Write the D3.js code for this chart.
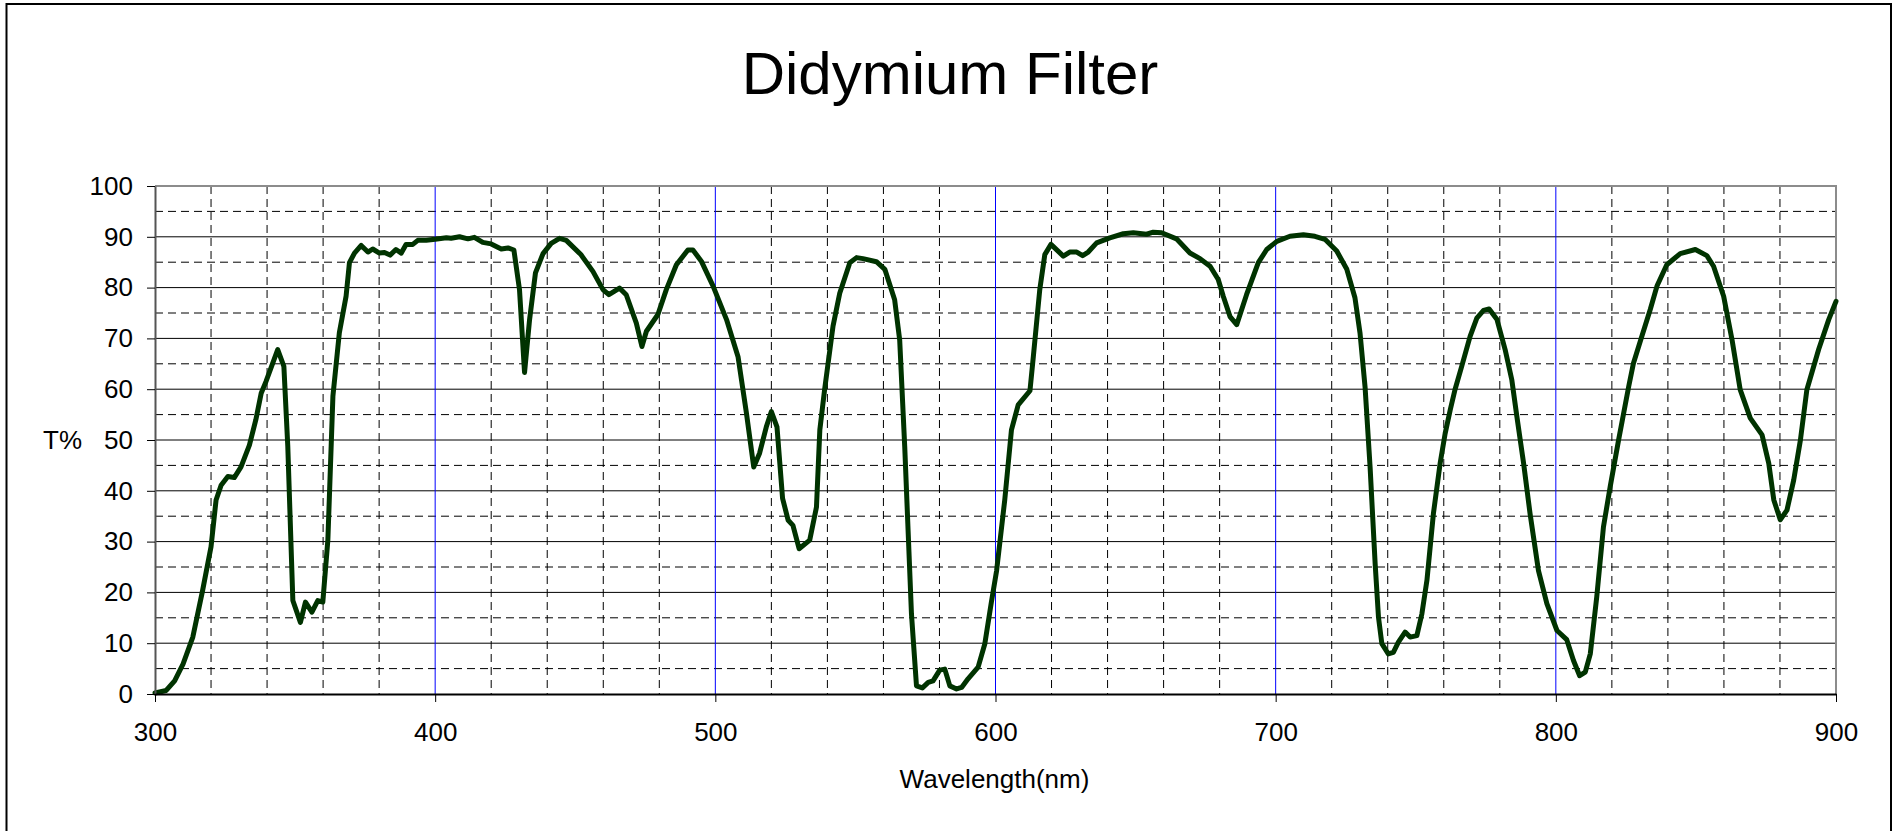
<!DOCTYPE html>
<html>
<head>
<meta charset="utf-8">
<script src="https://cdn.jsdelivr.net/npm/d3@7"></script>
<style>
   html, body { margin: 0; padding: 0; background: #fff; }
   svg { display: block; font-family: "Liberation Sans", Arial, sans-serif; }
</style>
</head>
<body>
<div id="chart"></div>
<script>
// wavelength (nm) and transmittance (%)
const wavelength = [
   300, 304, 307, 310, 313.5, 317, 320, 321.8, 323.6, 326, 328.3, 330.7, 333.7, 336, 337.9, 339.6,
   343.8, 346, 347.4, 349.2, 351.9, 353.7, 356, 358.1, 359.9, 361.7, 363.5, 365.8, 368.2, 369.4,
   371.2, 373.6, 376, 377.7, 380.1, 381.9, 383.9, 386, 387.9, 389.6, 392, 393.8, 396.8, 400,
   404, 405.7, 408.7, 411.7, 414, 417, 420, 423.6, 426, 428.1, 430.1, 431.9, 433.7, 435.8,
   438.5, 441.4, 444.4, 446.8, 452, 456.3, 459.9, 462, 465.8, 468.2, 471.8, 473.8, 475.4,
   479.5, 482.5, 486.1, 490.2, 492, 495, 499.2, 504, 508.1, 511.1, 513.7, 515.8, 518.2, 520,
   522, 524, 526, 527.7, 529.9, 533.7, 536.1, 537.3, 539, 542, 544.4, 548, 550.4, 552.7,
   557.5, 560.5, 564, 565.8, 567.6, 568.8, 570, 571.8, 573.9, 576, 577.7, 580.1, 581.9,
   583.7, 586.1, 587.9, 590.2, 593.8, 596.2, 598.5, 600.4, 603.3, 605.7, 608.1, 612.3, 613.5,
   615.8, 617.6, 619.8, 624.2, 626.5, 629, 631.1, 633.1, 636.1, 640.8, 645.6, 649.2, 653.9,
   656.3, 659.3, 664.6, 669.4, 673, 676.6, 679.5, 681.3, 683.7, 686.1, 689.6, 693.8, 696.8,
   700.4, 705.1, 709.9, 714, 717.6, 721.8, 725.4, 728.3, 730.1, 731.9, 733.7, 735.5, 736.7,
   737.9, 740.2, 742, 743.8, 746.2, 748, 750.4, 752.2, 754, 756.3, 758.7, 760.5, 762.3, 764,
   766.4, 769.4, 771.8, 774.2, 776.2, 779, 781.9, 784.3, 786.1, 788.5, 790.8, 793.8, 796.8,
   800.4, 803.9, 806.3, 808.5, 810.5, 812.3, 814.6, 817, 819.4, 822.4, 826, 827.7, 830.7,
   833.7, 836.1, 839.6, 844.4, 849.8, 853.9, 856.3, 859.9, 862.9, 865.8, 869.4, 873.6, 876,
   877.8, 880.1, 882.5, 884.9, 887.3, 889.6, 893.8, 897.4, 900
];
const transmittance = [
   0.2, 0.7, 2.6, 5.9, 11.2, 20.4, 29, 38.2, 41.1, 42.8, 42.6, 44.7, 49, 54, 59.2, 61.5,
   67.8, 64.5, 48.7, 18.4, 14.1, 18.1, 16.1, 18.4, 18.1, 30.3, 58.6, 71.1, 78.3, 84.9,
   86.8, 88.3, 87, 87.6, 86.8, 86.9, 86.4, 87.5, 86.8, 88.5, 88.5, 89.3, 89.3, 89.5,
   89.8, 89.7, 90, 89.6, 89.9, 88.9, 88.6, 87.6, 87.8, 87.4, 79.6, 63.3, 73.7, 82.9,
   86.7, 88.7, 89.7, 89.3, 86.5, 83.2, 79.6, 78.6, 79.9, 78.6, 73, 68.4, 71.4,
   74.7, 79.6, 84.5, 87.4, 87.4, 85.2, 80.3, 73.7, 66.4, 55.3, 44.7, 47.4, 52.6, 55.6,
   52.6, 38.5, 34.2, 33.2, 28.6, 30.3, 36.8, 52, 59.9, 72.4, 78.9, 84.9, 85.9, 85.7,
   85.1, 83.6, 77.6, 69.7, 48.7, 32.2, 15.8, 1.6, 1.2, 2.3, 2.6, 4.7, 4.9,
   1.6, 1.0, 1.3, 3.0, 5.3, 9.9, 18, 24.3, 38.2, 52, 56.9, 59.7, 66.4,
   79.6, 86.5, 88.5, 86.2, 87, 87, 86.3, 87, 88.8, 89.8, 90.6, 90.8, 90.5,
   90.9, 90.8, 89.6, 86.8, 85.7, 84.2, 81.6, 78.3, 74.3, 72.7, 78.6, 84.9, 87.5,
   89.1, 90.1, 90.4, 90.1, 89.5, 87.2, 83.6, 78, 71.1, 60.5, 44.7, 25.7, 15.1,
   9.9, 7.9, 8.2, 10.2, 12.2, 11.2, 11.5, 15.8, 22.4, 35.5, 45.4, 51.3, 55.9, 59.9,
   64.5, 70.4, 74, 75.5, 75.8, 73.7, 67.8, 61.8, 54.6, 45.4, 35.5, 24.3, 17.8,
   12.5, 10.7, 6.6, 3.6, 4.3, 7.9, 19.1, 32.9, 40.8, 50, 60.5, 65.1, 70.4,
   75.7, 80.3, 84.5, 86.7, 87.5, 86.3, 84.2, 78.3, 69.7, 59.9, 54.3, 51, 45.4,
   38.2, 34.3, 36.2, 42.1, 50, 59.9, 67.8, 73.7, 77.3
];
const xTicks = [300, 400, 500, 600, 700, 800, 900];
const yTicks = [0, 10, 20, 30, 40, 50, 60, 70, 80, 90, 100];
const xMinor = [320, 340, 360, 380, 420, 440, 460, 480, 520, 540, 560, 580,
   620, 640, 660, 680, 720, 740, 760, 780, 820, 840, 860, 880];
const xMajorGrid = [400, 500, 600, 700, 800];
const yMinor = [5, 15, 25, 35, 45, 55, 65, 75, 85, 95];
const yMajorGrid = [10, 20, 30, 40, 50, 60, 70, 80, 90];

const chartTitle = "Didymium Filter";
const xTitle = "Wavelength(nm)";
const yTitle = "T%";

const Width = 1896, Height = 831;
const Left = 155, Right = 1836, Top = 186, Bottom = 694;

const svg = d3.select("#chart").append("svg")
   .attr("width", Width)
   .attr("height", Height);

// outer chart frame (bottom edge runs off the page)
svg.append("rect")
   .attr("x", 6.5).attr("y", 4)
   .attr("width", 1884.5).attr("height", 850)
   .attr("fill", "#fff")
   .attr("stroke", "#000")
   .attr("stroke-width", 2);

const x = d3.scaleLinear().domain([300, 900]).range([Left, Right]);
const y = d3.scaleLinear().domain([0, 100]).range([Bottom, Top]);

const grid = svg.append("g");

grid.selectAll(".hminor").data(yMinor).enter().append("line")
   .attr("class", "hminor")
   .attr("x1", Left).attr("x2", Right)
   .attr("y1", d => y(d)).attr("y2", d => y(d))
   .attr("stroke", "#000").attr("stroke-width", 1)
   .attr("stroke-dasharray", "8,5");

grid.selectAll(".vminor").data(xMinor).enter().append("line")
   .attr("class", "vminor")
   .attr("x1", d => x(d)).attr("x2", d => x(d))
   .attr("y1", Top).attr("y2", Bottom)
   .attr("stroke", "#000").attr("stroke-width", 1)
   .attr("stroke-dasharray", "8,5");

grid.selectAll(".hmajor").data(yMajorGrid).enter().append("line")
   .attr("class", "hmajor")
   .attr("x1", Left).attr("x2", Right)
   .attr("y1", d => y(d)).attr("y2", d => y(d))
   .attr("stroke", "#000").attr("stroke-width", 1);

grid.selectAll(".vmajor").data(xMajorGrid).enter().append("line")
   .attr("class", "vmajor")
   .attr("x1", d => x(d)).attr("x2", d => x(d))
   .attr("y1", Top).attr("y2", Bottom)
   .attr("stroke", "#0000ff").attr("stroke-width", 1);

// plot area border, top and right
svg.append("path")
   .attr("d", `M${Left},${y(100)}H${x(900)}V${Bottom}`)
   .attr("fill", "none")
   .attr("stroke", "#8c8c8c")
   .attr("stroke-width", 2);

// the curve
const points = wavelength.map((w, i) => [w, transmittance[i]]);
svg.append("path")
   .datum(points)
   .attr("fill", "none")
   .attr("stroke", "#003300")
   .attr("stroke-width", 5)
   .attr("stroke-linejoin", "round")
   .attr("stroke-linecap", "round")
   .attr("d", d3.line().x(d => x(d[0])).y(d => y(d[1])));

// axes
const yAxis = svg.append("g")
   .attr("transform", `translate(${Left},0)`)
   .call(d3.axisLeft(y).tickValues(yTicks).tickSize(8).tickSizeOuter(0).tickPadding(14));
yAxis.select(".domain").attr("stroke", "#555").attr("stroke-width", 2);
yAxis.selectAll(".tick line").attr("stroke", "#000");
yAxis.selectAll(".tick text")
   .attr("font-size", 26).attr("fill", "#000")
   .attr("font-family", "'Liberation Sans', Arial, sans-serif");

const xAxis = svg.append("g")
   .attr("transform", `translate(0,${Bottom})`)
   .call(d3.axisBottom(x).tickValues(xTicks).tickSize(8).tickSizeOuter(0).tickPadding(21));
xAxis.select(".domain").attr("stroke", "#000").attr("stroke-width", 2);
xAxis.selectAll(".tick line").attr("stroke", "#000");
xAxis.selectAll(".tick text")
   .attr("font-size", 26).attr("fill", "#000")
   .attr("font-family", "'Liberation Sans', Arial, sans-serif");

// titles
svg.append("text")
   .attr("x", 950).attr("y", 94.3)
   .attr("text-anchor", "middle")
   .attr("font-size", 60)
   .text(chartTitle);

svg.append("text")
   .attr("x", 62.5).attr("y", 449.3)
   .attr("text-anchor", "middle")
   .attr("font-size", 26)
   .text(yTitle);

svg.append("text")
   .attr("x", 994.5).attr("y", 788.3)
   .attr("text-anchor", "middle")
   .attr("font-size", 26)
   .text(xTitle);
</script>
</body>
</html>
